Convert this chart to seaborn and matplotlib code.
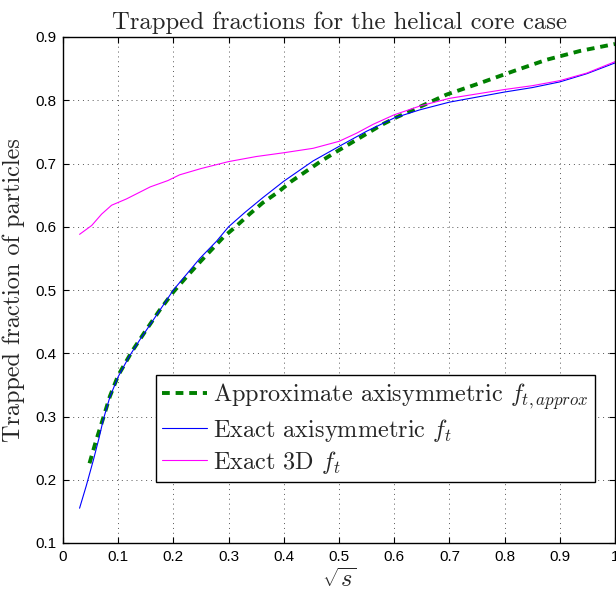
import numpy as np
import pandas as pd
import matplotlib
matplotlib.use("Agg")
import matplotlib.pyplot as plt
import seaborn as sns

# ---- data ----
approx_x = [0.048, 0.06, 0.073, 0.085, 0.1, 0.125, 0.15, 0.175, 0.2, 0.225, 0.25, 0.29,
            0.314, 0.338, 0.362, 0.39, 0.414, 0.441, 0.468, 0.494, 0.523, 0.55, 0.577,
            0.604, 0.635, 0.695, 0.755, 0.816, 0.876, 0.937, 1.0]
approx_y = [0.226, 0.262, 0.298, 0.332, 0.365, 0.403, 0.436, 0.468, 0.497, 0.522, 0.546, 0.583,
            0.601, 0.62, 0.638, 0.655, 0.672, 0.688, 0.704, 0.718, 0.733, 0.747, 0.761,
            0.773, 0.785, 0.809, 0.827, 0.846, 0.864, 0.878, 0.889]

exact_axi_x = [0.030, 0.042, 0.055, 0.065, 0.073, 0.085, 0.100, 0.120, 0.139, 0.160, 0.180,
               0.200, 0.225, 0.248, 0.278, 0.300, 0.330, 0.362, 0.400, 0.453, 0.500, 0.550,
               0.600, 0.647, 0.700, 0.750, 0.800, 0.850, 0.900, 0.949, 1.000]
exact_axi_y = [0.155, 0.190, 0.231, 0.265, 0.295, 0.331, 0.363, 0.395, 0.421, 0.448, 0.474,
               0.500, 0.526, 0.550, 0.577, 0.600, 0.623, 0.646, 0.672, 0.704, 0.727, 0.751,
               0.772, 0.785, 0.797, 0.805, 0.813, 0.820, 0.829, 0.842, 0.859]

exact_3d_x = [0.030, 0.052, 0.070, 0.088, 0.115, 0.158, 0.190, 0.211, 0.250, 0.300, 0.350,
              0.400, 0.453, 0.500, 0.532, 0.562, 0.600, 0.647, 0.700, 0.750, 0.800, 0.850,
              0.900, 0.949, 1.000]
exact_3d_y = [0.588, 0.602, 0.620, 0.634, 0.644, 0.663, 0.673, 0.682, 0.692, 0.703, 0.711,
              0.717, 0.724, 0.735, 0.748, 0.762, 0.777, 0.791, 0.803, 0.810, 0.817, 0.823,
              0.831, 0.843, 0.861]

labels = [r"Approximate axisymmetric $f_{t,approx}$",
          r"Exact axisymmetric $f_t$",
          r"Exact 3D $f_t$"]
xticks = [0, 0.1, 0.2, 0.3, 0.4, 0.5, 0.6, 0.7, 0.8, 0.9, 1]
yticks = [0.1, 0.2, 0.3, 0.4, 0.5, 0.6, 0.7, 0.8, 0.9]

# ---- styling ----
sns.set_style("ticks")
plt.rcParams["font.family"] = ["Liberation Sans", "DejaVu Sans"]
plt.rcParams["mathtext.fontset"] = "cm"
serif = ["cmr10", "DejaVu Serif"]

fig = plt.figure(figsize=(6.16, 5.92), dpi=100)
ax = fig.add_axes([63 / 616, 49 / 592, 552 / 616, 506 / 592])

df_a = pd.DataFrame({"x": approx_x, "y": approx_y})
df_b = pd.DataFrame({"x": exact_axi_x, "y": exact_axi_y})
df_c = pd.DataFrame({"x": exact_3d_x, "y": exact_3d_y})

dash = (2.0, 1.5)
sns.lineplot(data=df_a, x="x", y="y", ax=ax, color="#008000", linewidth=2.8,
             label=labels[0], sort=False)
ax.lines[-1].set_dashes(dash)
sns.lineplot(data=df_b, x="x", y="y", ax=ax, color="#0000ff", linewidth=0.8,
             label=labels[1], sort=False)
sns.lineplot(data=df_c, x="x", y="y", ax=ax, color="#ff00ff", linewidth=0.8,
             label=labels[2], sort=False)

ax.set_xlim(0, 1)
ax.set_ylim(0.1, 0.9)
ax.set_xticks(xticks)
ax.set_xticklabels([f"{t:g}" for t in xticks])
ax.set_yticks(yticks)
ax.set_yticklabels([f"{t:g}" for t in yticks])
ax.tick_params(direction="in", top=True, right=True, length=4, width=0.8,
               labelsize=11, colors="black", pad=5)
ax.grid(True, linestyle=(0, (1, 4)), color="#555555", linewidth=0.7)
for sp in ax.spines.values():
    sp.set_linewidth(1.0)
    sp.set_color("black")

ax.set_title("Trapped fractions for the helical core case", fontsize=17.8,
             family=serif, pad=6)
ax.set_xlabel(r"$\sqrt{s}$", fontsize=17.5, labelpad=3)
ax.set_ylabel("Trapped fraction of particles", fontsize=17.5, family=serif, labelpad=7)

leg = ax.legend(loc="lower right", bbox_to_anchor=(0.964, 0.121), borderaxespad=0,
                prop={"family": serif, "size": 17.5}, frameon=True, fancybox=False,
                edgecolor="black", framealpha=1, handlelength=1.85, handletextpad=0.25,
                labelspacing=0.2, borderpad=0.25)
leg.get_frame().set_linewidth(1.0)
leg.get_lines()[0].set_dashes(dash)

fig.savefig("out.png", dpi=100)
